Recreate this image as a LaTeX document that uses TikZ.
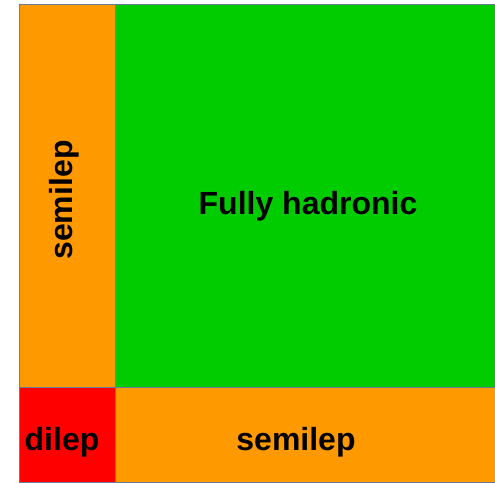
\documentclass[tikz,border=0pt]{standalone}
\usepackage{fontspec}
\setmainfont{Liberation Sans}
\begin{document}
\begin{tikzpicture}[x=1pt,y=1pt,
  cell/.style={draw=edgecol,line width=0.9pt},
  lbl/.style={font=\fontsize{32}{36}\selectfont\bfseries,text=black,inner sep=0pt}]
\definecolor{edgecol}{HTML}{6D7A99}
\definecolor{orangec}{HTML}{FF9900}
\definecolor{greenc}{HTML}{00CC00}
\definecolor{redc}{HTML}{FF0000}
\useasboundingbox (0,0) rectangle (495,482);
\fill[white] (0,0) rectangle (495,482);
\filldraw[cell,fill=orangec] (19,95) rectangle (115,478);
\filldraw[cell,fill=greenc] (115,95) rectangle (495.5,478);
\filldraw[cell,fill=redc] (19,-0.5) rectangle (115,95);
\filldraw[cell,fill=orangec] (115,-0.5) rectangle (495.5,95);
\node[lbl] (fh) at (308,275.5) {Fully hadronic};
\node[lbl] (sb) at (296,39.5) {semilep};
\node[lbl] (dl) at (62,39.5) {dilep};
\node[lbl,rotate=90] (sl) at (64,282) {semilep};
\end{tikzpicture}
\end{document}
